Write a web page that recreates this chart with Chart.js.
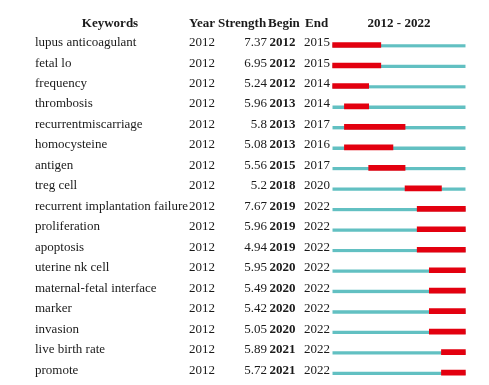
<!DOCTYPE html>
<html>
<head>
<meta charset="utf-8">
<script src="https://cdn.jsdelivr.net/npm/chart.js@4/dist/chart.umd.min.js"></script>
<style>
html,body{margin:0;padding:0;background:#fff;}
#wrap{width:489px;height:385px;}
</style>
</head>
<body>
<div id="wrap"><canvas id="c" width="489" height="385"></canvas></div>
<script>
const keywords = ["lupus anticoagulant","fetal lo","frequency","thrombosis","recurrentmiscarriage","homocysteine","antigen","treg cell","recurrent implantation failure","proliferation","apoptosis","uterine nk cell","maternal-fetal interface","marker","invasion","live birth rate","promote"];
const years = [2012,2012,2012,2012,2012,2012,2012,2012,2012,2012,2012,2012,2012,2012,2012,2012,2012];
const strengths = ["7.37","6.95","5.24","5.96","5.8","5.08","5.56","5.2","7.67","5.96","4.94","5.95","5.49","5.42","5.05","5.89","5.72"];
const begins = [2012,2012,2012,2013,2013,2013,2015,2018,2019,2019,2019,2020,2020,2020,2020,2021,2021];
const ends = [2015,2015,2014,2014,2017,2016,2017,2020,2022,2022,2022,2022,2022,2022,2022,2022,2022];
const rangeStart = 2012, rangeEnd = 2022;
const headers = ["Keywords","Year","Strength","Begin","End"];
const rangeTitle = rangeStart + " - " + rangeEnd;

const FONT = '"Liberation Serif","Times New Roman",serif';
const TEXT = '#1a1a1a';

const redData = keywords.map((k,i)=>[begins[i], ends[i]+1]);
const tealData = keywords.map(()=>[rangeStart, rangeEnd+1]);

const tablePlugin = {
  id:'table',
  afterDatasetsDraw(chart){
    const ctx = chart.ctx;
    const ys = chart.scales.y;
    const xs = chart.scales.x;
    ctx.save();
    ctx.fillStyle = TEXT;
    ctx.textBaseline = 'alphabetic';
    ctx.font = 'bold 13px ' + FONT;
    const hy = 27;
    ctx.textAlign = 'center';
    ctx.fillText(headers[0], 110, hy);
    ctx.textAlign = 'left';
    ctx.fillText(headers[1], 189, hy);
    ctx.fillText(headers[2], 218, hy);
    ctx.fillText(headers[3], 268, hy);
    ctx.fillText(headers[4], 305, hy);
    ctx.textAlign = 'center';
    ctx.fillText(rangeTitle, (xs.left + xs.right)/2, hy);
    for (let i=0;i<keywords.length;i++){
      const y = ys.getPixelForValue(i) + 1;
      ctx.font = '13px ' + FONT;
      ctx.textAlign = 'left';
      ctx.fillText(keywords[i], 35, y);
      ctx.fillText(String(years[i]), 189, y);
      ctx.textAlign = 'right';
      ctx.fillText(strengths[i], 267, y);
      ctx.textAlign = 'left';
      ctx.font = 'bold 13px ' + FONT;
      ctx.fillText(String(begins[i]), 269.5, y);
      ctx.font = '13px ' + FONT;
      ctx.fillText(String(ends[i]), 304, y);
    }
    ctx.restore();
  }
};

new Chart(document.getElementById('c'), {
  type:'bar',
  data:{
    labels: keywords,
    datasets:[
      {label:'period', data:tealData, backgroundColor:'#62c0c2', barThickness:5,
       borderWidth:{top:2,left:0,right:0,bottom:0}, borderColor:'rgba(0,0,0,0)', borderSkipped:false, order:2},
      {label:'burst', data:redData, backgroundColor:'#e3000f', barThickness:5, borderWidth:0, order:1}
    ]
  },
  options:{
    responsive:false,
    animation:false,
    indexAxis:'y',
    grouped:false,
    datasets:{bar:{grouped:false}},
    layout:{padding:{left:332.3, right:23.3, top:34.8, bottom:2.2}},
    plugins:{legend:{display:false}, tooltip:{enabled:false}},
    scales:{
      x:{type:'linear', min:rangeStart, max:rangeEnd+1, display:false},
      y:{type:'category', display:false}
    }
  },
  plugins:[tablePlugin]
});
</script>
</body>
</html>
